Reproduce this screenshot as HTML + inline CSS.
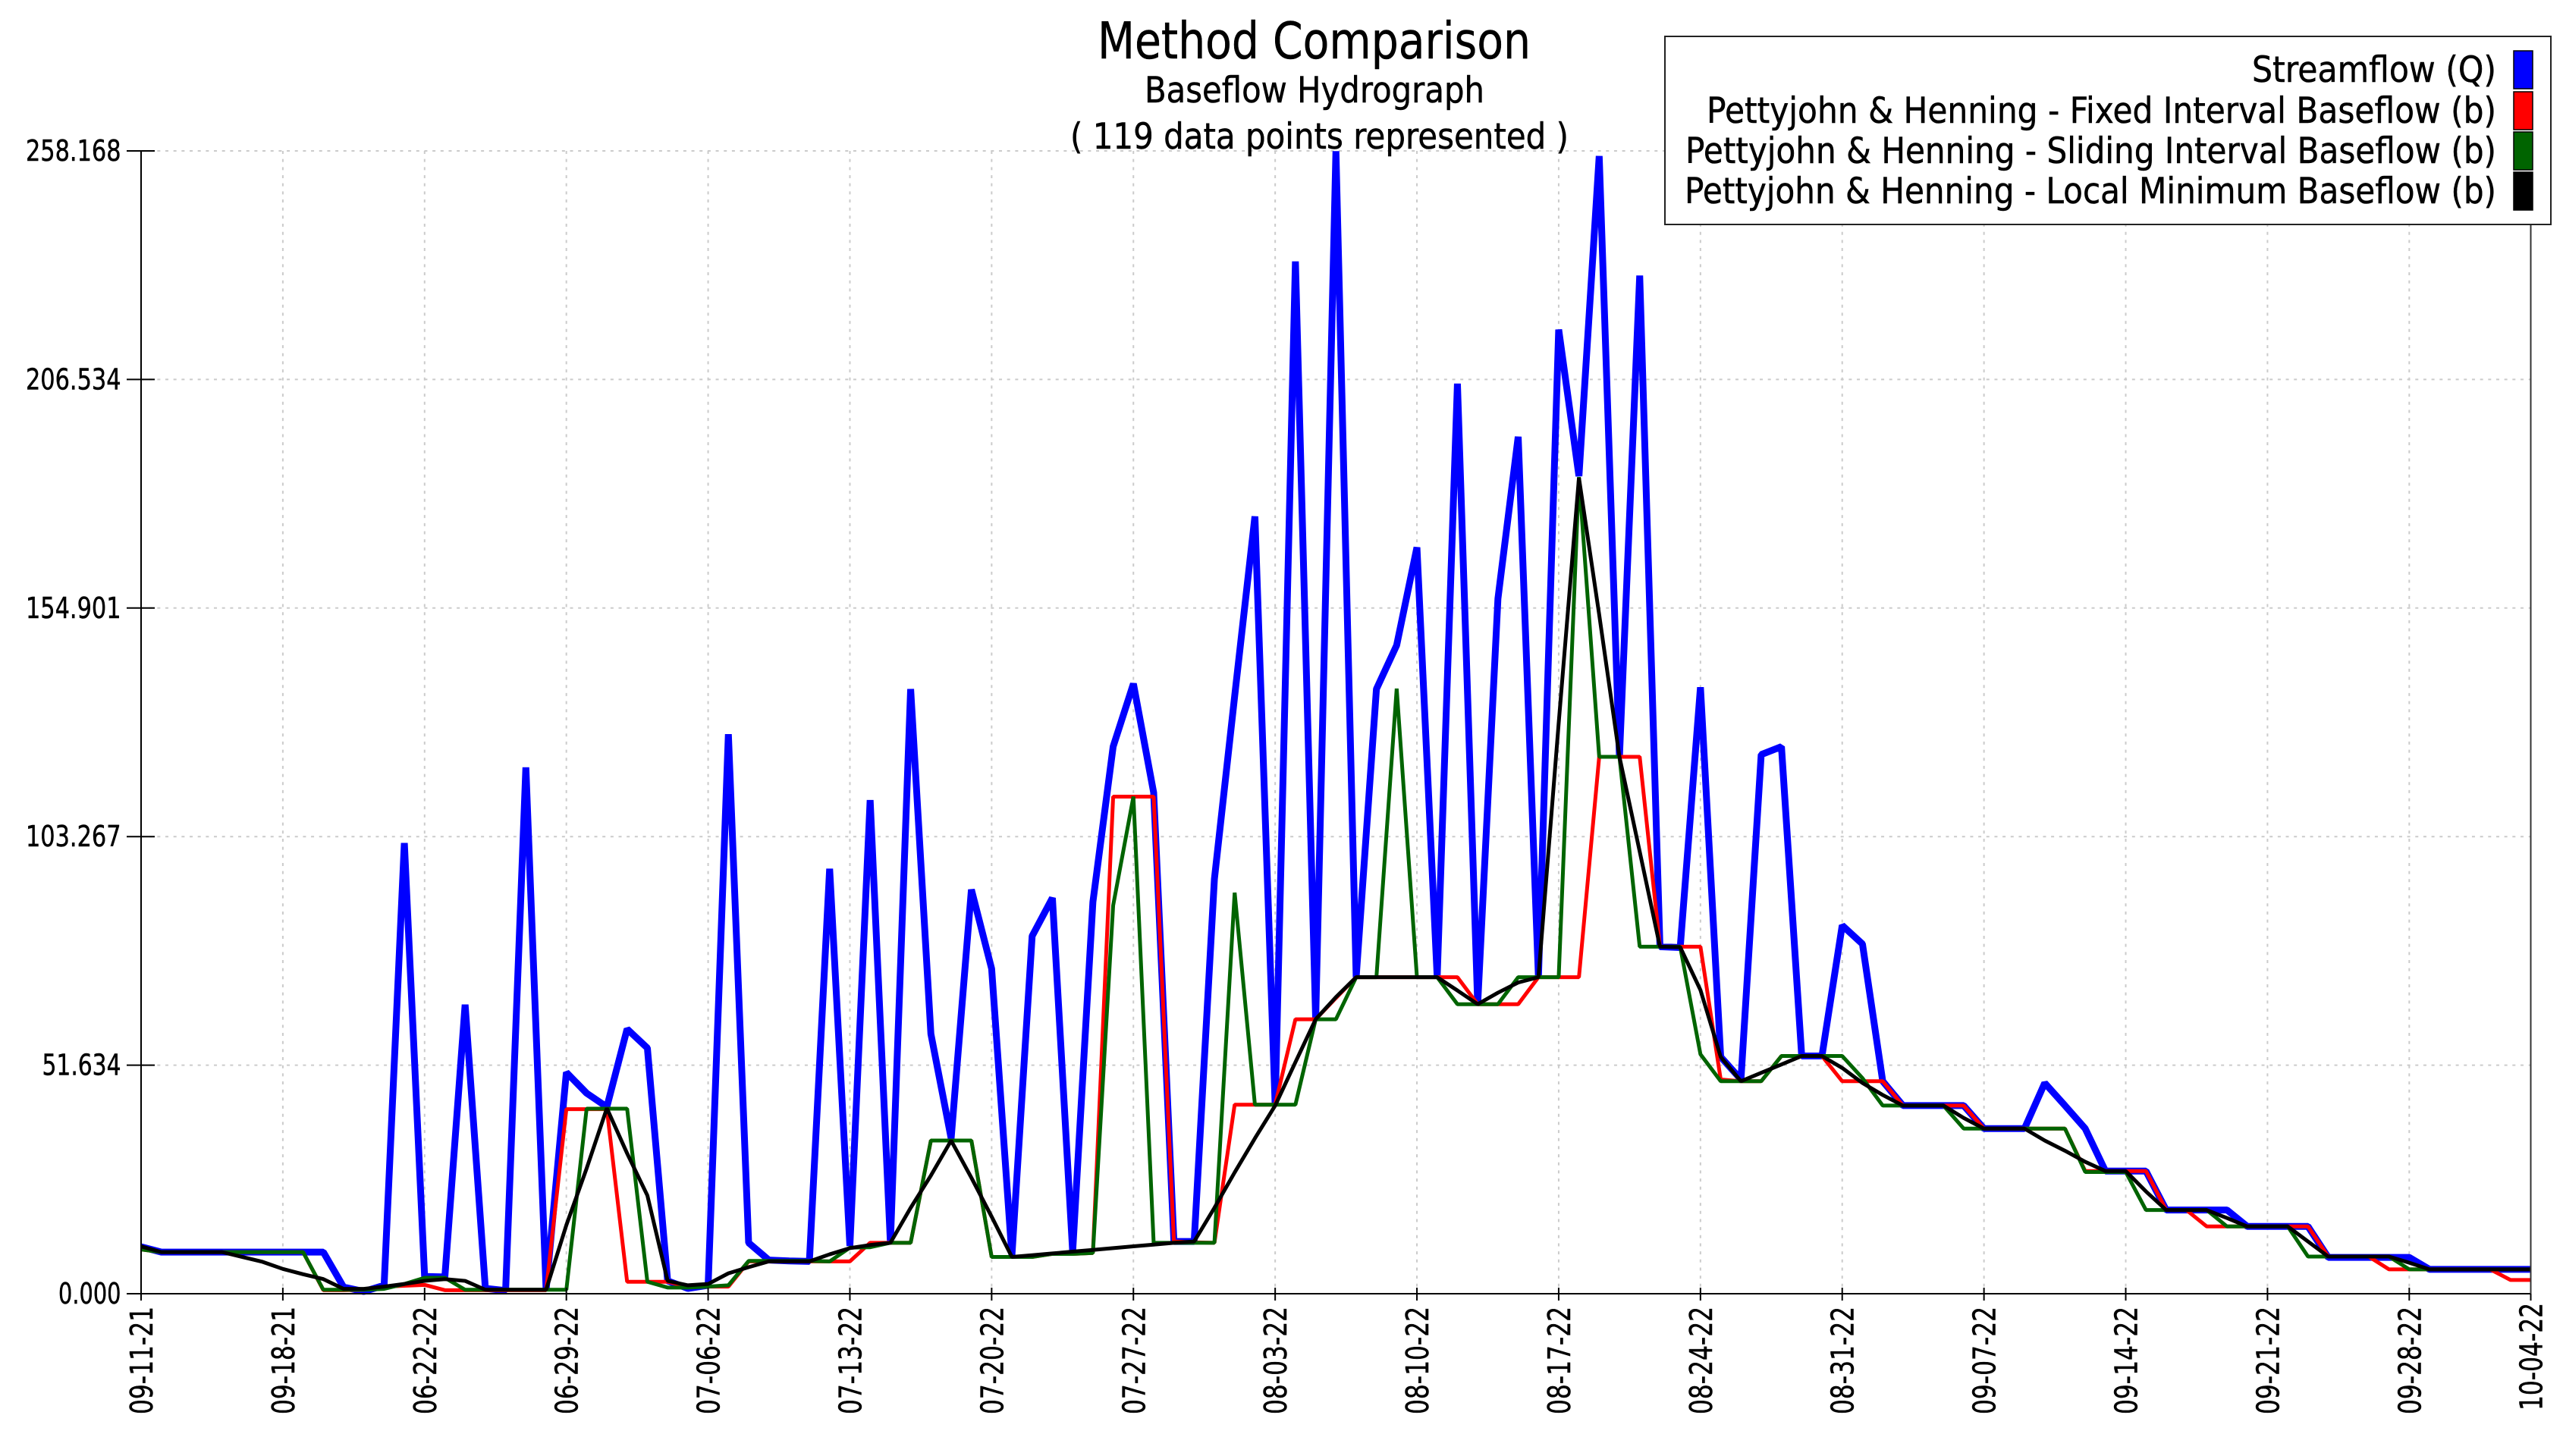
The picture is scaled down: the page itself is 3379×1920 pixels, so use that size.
<!DOCTYPE html>
<html>
<head>
<meta charset="utf-8">
<title>Method Comparison</title>
<style>
html,body{margin:0;padding:0;background:#fff;}
svg{display:block;}
text{font-family:"DejaVu Sans","Liberation Sans",sans-serif;fill:#000;stroke:#000;stroke-width:0.5px;}
</style>
</head>
<body>
<svg id="chart" xmlns="http://www.w3.org/2000/svg" width="3379" height="1920" viewBox="0 0 3379 1920">
  <rect x="0" y="0" width="3379" height="1920" fill="#fff"/>
  <g id="grid"></g>
  <g id="series"></g>
  <g id="axes"></g>
  <text x="1732.5" y="77" font-size="67" text-anchor="middle" textLength="571" lengthAdjust="spacingAndGlyphs">Method Comparison</text>
  <text x="1733" y="135" font-size="47" text-anchor="middle" textLength="448" lengthAdjust="spacingAndGlyphs">Baseflow Hydrograph</text>
  <text x="1739.5" y="196" font-size="47" text-anchor="middle" textLength="657" lengthAdjust="spacingAndGlyphs">( 119 data points represented )</text>
  <g>
    <rect x="2195" y="48" width="1168" height="248" fill="#fff" stroke="#222" stroke-width="2"/>
    <text x="3291" y="108" font-size="47" text-anchor="end" textLength="322" lengthAdjust="spacingAndGlyphs">Streamflow (Q)</text>
    <text x="3291" y="162" font-size="47" text-anchor="end" textLength="1041" lengthAdjust="spacingAndGlyphs">Pettyjohn &amp; Henning - Fixed Interval Baseflow (b)</text>
    <text x="3291" y="215" font-size="47" text-anchor="end" textLength="1069" lengthAdjust="spacingAndGlyphs">Pettyjohn &amp; Henning - Sliding Interval Baseflow (b)</text>
    <text x="3291" y="268" font-size="47" text-anchor="end" textLength="1070" lengthAdjust="spacingAndGlyphs">Pettyjohn &amp; Henning - Local Minimum Baseflow (b)</text>
    <rect x="3314" y="67" width="25" height="50" fill="#0000ff" stroke="#000" stroke-width="1.5"/>
    <rect x="3314" y="121" width="25" height="50" fill="#ff0000" stroke="#000" stroke-width="1.5"/>
    <rect x="3314" y="174" width="25" height="50" fill="#006400" stroke="#000" stroke-width="1.5"/>
    <rect x="3314" y="227" width="25" height="50" fill="#000000" stroke="#000" stroke-width="1.5"/>
  </g>
</svg>
<script>
const tickLabels = ["09-11-21","09-18-21","06-22-22","06-29-22","07-06-22","07-13-22","07-20-22","07-27-22","08-03-22","08-10-22","08-17-22","08-24-22","08-31-22","09-07-22","09-14-22","09-21-22","09-28-22","10-04-22"];
const tickIndices = [0,7,14,21,28,35,42,49,56,63,70,77,84,91,98,105,112,118];
const yTickValues = [0,51.634,103.267,154.901,206.534,258.168];
const yTickLabels = ["0.000","51.634","103.267","154.901","206.534","258.168"];

const streamflow = [10.6,9.4,9.4,9.4,9.4,9.4,9.4,9.4,9.4,9.4,1.5,0.5,1.9,101.8,3.9,3.8,65.3,1.2,0.7,118.9,0.9,50,45.3,42.2,59.8,55.5,2.9,1.2,1.9,126.4,11.5,7.6,7.4,7.3,96,10.8,111.5,11.5,136.6,58.7,35.1,91.3,73.4,8.6,80.8,89.4,9.5,88.5,123.6,137.8,113.2,11.8,11.8,93.7,135,175.6,42.5,233.2,62,258.1,71.5,136.6,146.5,168.6,71.5,205.6,65.4,157,193.6,71.5,217.8,184.7,257,121.3,230,78.4,78.2,137,53.5,48.4,121.8,123.6,53.7,53.7,83.2,79,48,42.5,42.5,42.5,42.5,37.3,37.3,37.3,47.6,42.5,37.3,27.7,27.7,27.7,18.9,18.9,18.9,18.9,15.2,15.2,15.2,15.2,8.2,8.2,8.2,8.2,8.2,5.5,5.5,5.5,5.5,5.5,5.5];
const fixedInterval = [10,9.4,9.4,9.4,9.4,9.4,9.4,9.4,9.4,0.8,0.8,0.9,1.6,1.8,2,0.8,0.8,0.8,0.8,0.8,0.8,41.7,41.7,41.7,2.7,2.7,2.7,1.6,1.6,1.6,7.3,7.3,7.3,7.3,7.3,7.3,11.5,11.5,11.5,34.6,34.6,34.6,8.3,8.3,8.3,9,9,9.2,112.3,112.3,112.3,11.8,11.6,11.5,42.7,42.7,42.7,62,62,66.8,71.5,71.5,71.5,71.5,71.5,71.5,65.4,65.4,65.4,71.5,71.5,71.5,121.3,121.3,121.3,78.4,78.4,78.4,48.4,48,48,53.7,53.7,53.7,48,48,48,42.5,42.5,42.5,42.5,37.3,37.3,37.3,37.3,37.3,27.7,27.7,27.7,27.7,18.9,18.9,15.2,15.2,15.2,15.2,15.2,15.2,8.4,8.4,8.4,5.5,5.5,5.5,5.5,5.5,5.5,3.1,3.1];
const slidingInterval = [10,9.4,9.4,9.4,9.4,9.4,9.4,9.4,9.4,0.9,0.9,0.9,1.1,2.2,3.6,3.6,0.9,0.9,0.9,0.9,0.9,0.9,41.8,41.8,41.8,2.7,1.4,1.4,1.6,1.9,7.4,7.4,7.4,7.4,7.3,10.4,10.5,11.5,11.5,34.6,34.6,34.6,8.3,8.3,8.3,9,9,9.2,87.7,112.3,11.5,11.5,11.5,11.5,90.6,42.7,42.7,42.7,62,62,71.5,71.5,136.7,71.5,71.5,65.4,65.4,65.4,71.5,71.5,71.5,184.5,121.3,121.3,78.4,78.4,78.4,54.1,48,48,48,53.7,53.7,53.7,53.7,48.7,42.5,42.5,42.5,42.5,37.3,37.3,37.3,37.3,37.3,37.3,27.5,27.5,27.5,18.9,18.9,18.9,18.9,15.2,15.2,15.2,15.2,8.4,8.4,8.4,8.4,8.4,5.5,5.5,5.5,5.5,5.5,5.5,5.5];
const localMinimum = [10.7,9.4,9.4,9.4,9.4,8.3,7.2,5.6,4.4,3.3,1.1,1.1,1.6,2.2,2.9,3.3,2.9,0.9,0.9,0.9,0.9,15.5,28.3,41.9,31.7,22.2,2.9,1.9,2.2,4.6,6,7.3,7.3,7.3,8.9,10.3,11,11.5,19.4,26.7,34.6,26.2,17.4,8.3,8.7,9.1,9.5,9.9,10.3,10.7,11.1,11.5,11.8,19.4,27.4,35.1,42.5,52.3,62,67,71.5,71.5,71.5,71.5,71.5,68.5,65.4,68,70.3,71.5,128.9,184.3,153.4,121.3,99.9,78.4,78.3,68.6,53.5,48,49.9,51.8,53.7,53.7,51,47.6,44.9,42.5,42.5,42.5,39.7,37.3,37.3,37.3,34.6,32.3,29.8,27.7,27.7,23.1,18.9,18.9,18.9,17.1,15.2,15.2,15.2,11.8,8.4,8.4,8.4,8.4,7,5.5,5.5,5.5,5.5,5.5,5.5];

const SVGNS = "http://www.w3.org/2000/svg";
const plotLeft = 186, plotRight = 3336.5, plotTop = 199, plotBottom = 1706;
const xMaxIndex = streamflow.length - 1;
const yMax = yTickValues[yTickValues.length - 1];

function xScale(i){ return plotLeft + (plotRight - plotLeft) * i / xMaxIndex; }
function yScale(v){ return plotBottom - (plotBottom - plotTop) * v / yMax; }

function make(tag, attrs){
  const el = document.createElementNS(SVGNS, tag);
  Object.keys(attrs).forEach(function(k){ el.setAttribute(k, attrs[k]); });
  return el;
}

const gridG = document.getElementById("grid");
const axesG = document.getElementById("axes");
const seriesG = document.getElementById("series");

yTickValues.forEach(function(v, n){
  const y = yScale(v);
  if (n > 0) {
    const g = make("line", {x1: plotLeft, x2: plotRight, y1: y, y2: y, stroke: "#cbcbcb", "stroke-width": 2, "stroke-dasharray": "4 6.67"});
    
    
    gridG.appendChild(g);
  }
  const t = make("line", {x1: 167, x2: 204, y1: y, y2: y, stroke: "#000", "stroke-width": 2});
  
  
  axesG.appendChild(t);
  const label = yTickLabels[n];
  const l = make("text", {x: 159.5, y: y + 13, "font-size": 38, "text-anchor": "end", textLength: (label.length - 2) * 21.5 + 18, lengthAdjust: "spacingAndGlyphs"});
  
  
  l.textContent = label;
  axesG.appendChild(l);
});

tickIndices.forEach(function(idx, n){
  const x = xScale(idx);
  if (n > 0 && n < tickIndices.length - 1) {
    const g = make("line", {x1: x, x2: x, y1: plotTop, y2: plotBottom, stroke: "#cbcbcb", "stroke-width": 2, "stroke-dasharray": "4 6.67"});
    
    
    gridG.appendChild(g);
  }
  const t = make("line", {x1: x, x2: x, y1: plotBottom - 8, y2: plotBottom + 9, stroke: "#000", "stroke-width": 2});
  
  
  axesG.appendChild(t);
  const top = n === tickIndices.length - 1 ? 1718 : 1723;
  const l = make("text", {x: 0, y: 0, "font-size": 41, "text-anchor": "end", textLength: 142, lengthAdjust: "spacingAndGlyphs", transform: "translate(" + (x + 15) + "," + top + ") rotate(-90)"});
  
  
  l.textContent = tickLabels[n];
  axesG.appendChild(l);
});

function drawSeries(values, color, width, name){
  const pts = values.map(function(v, i){ return xScale(i).toFixed(2) + "," + yScale(v).toFixed(2); }).join(" ");
  const p = make("polyline", {points: pts, fill: "none", stroke: color, "stroke-width": width, "stroke-linejoin": "bevel"});
  
  
  seriesG.appendChild(p);
}
drawSeries(streamflow, "#0000ff", 9, "streamflow-line");
drawSeries(fixedInterval, "#ff0000", 5, "fixed-interval-baseflow-line");
drawSeries(slidingInterval, "#006400", 5, "sliding-interval-baseflow-line");
drawSeries(localMinimum, "#000000", 5, "local-minimum-baseflow-line");

const yAxis = make("line", {x1: plotLeft, x2: plotLeft, y1: plotTop, y2: plotBottom, stroke: "#000", "stroke-width": 2});


axesG.appendChild(yAxis);
const xAxis = make("line", {x1: plotLeft - 19, x2: plotRight, y1: plotBottom, y2: plotBottom, stroke: "#000", "stroke-width": 2});


axesG.appendChild(xAxis);
const rightEdge = make("line", {x1: plotRight, x2: plotRight, y1: plotTop, y2: plotBottom, stroke: "#333", "stroke-width": 2});


axesG.appendChild(rightEdge);
</script>
</body>
</html>
